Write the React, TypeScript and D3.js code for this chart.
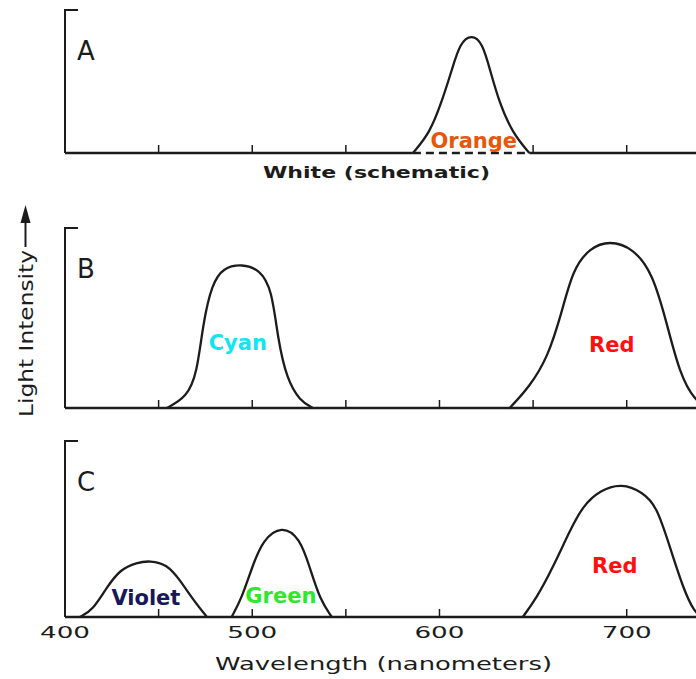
import * as d3 from "d3";

// wavelength (nm) / relative intensity pairs
const orangeA: [number, number][] = [
  [585.8, 0], [594.8, 0.14], [601, 0.35], [606.6, 0.58], [610.9, 0.77],
  [617.2, 0.83], [623, 0.77], [627, 0.58], [632, 0.35], [639, 0.14], [648, 0],
];
const cyanB: [number, number][] = [
  [454.4, 0], [465, 0.06], [470.5, 0.19], [473.7, 0.47], [478.5, 0.69],
  [484.5, 0.78], [494.5, 0.8], [504, 0.77], [510.5, 0.66], [513.7, 0.38],
  [518.5, 0.16], [525.4, 0.04], [532.4, 0],
];
const redB: [number, number][] = [
  [637.5, 0], [648.2, 0.12], [657.8, 0.28], [665.3, 0.53], [671.2, 0.77],
  [680.3, 0.89], [690.9, 0.93], [703.2, 0.89], [713.9, 0.75], [721.4, 0.47],
  [728.3, 0.19], [736.3, 0.04], [744, 0],
];
const violetC: [number, number][] = [
  [408, 0], [415, 0.04], [422.4, 0.17], [429.4, 0.27], [438.4, 0.31],
  [445.4, 0.32], [454.4, 0.3], [461.4, 0.21], [468.3, 0.1], [475.8, 0],
];
const greenC: [number, number][] = [
  [489, 0], [494.5, 0.11], [499.8, 0.28], [505.7, 0.44], [515.8, 0.52],
  [525.4, 0.45], [530.8, 0.28], [536.1, 0.1], [542.5, 0],
];
const redC: [number, number][] = [
  [644.5, 0], [652, 0.11], [660.5, 0.28], [669.6, 0.49], [676.5, 0.63],
  [685.6, 0.72], [697.3, 0.76], [708.5, 0.71], [716, 0.63], [723, 0.4],
  [729.9, 0.17], [736.3, 0.02], [741, 0],
];

const ticksA = [450, 500, 550, 650, 700];
const ticksB = [450, 500, 550, 600, 650, 700];
const ticksC = [450, 500, 550, 600, 700];
const tickLabels = [400, 500, 600, 700];

// label text, colour, anchor wavelength, anchor intensity
const labelsA = [["Orange", "#e8560c", 618.3, 0.035]] as const;
const labelsB = [
  ["Cyan", "#12e4f4", 492.3, 0.32],
  ["Red", "#ff1010", 692, 0.31],
] as const;
const labelsC = [
  ["Violet", "#17175a", 443.2, 0.07],
  ["Green", "#2ee82e", 515.3, 0.08],
  ["Red", "#ff1010", 693.6, 0.25],
] as const;

const W = 696;
const H = 679;
const ink = "#1c1c1c";
const font = "DejaVu Sans";

const x = d3.scaleLinear().domain([400, 737]).range([65, 696]);

const panels = [
  { name: "A", top: 10, base: 153, curves: [orangeA], ticks: ticksA, labels: labelsA, dashed: [585.8, 648] },
  { name: "B", top: 228, base: 408, curves: [cyanB, redB], ticks: ticksB, labels: labelsB, dashed: null },
  { name: "C", top: 441, base: 617, curves: [violetC, greenC, redC], ticks: ticksC, labels: labelsC, dashed: null },
];

function Panel({ p }: { p: (typeof panels)[number] }) {
  const y = d3.scaleLinear().domain([0, 1]).range([p.base, p.top]);
  const line = d3
    .line<[number, number]>()
    .x((d) => x(d[0]))
    .y((d) => y(d[1]))
    .curve(d3.curveBasis);
  const x0 = x.range()[0];
  const x1 = x.range()[1];

  return (
    <g>
      {/* bracket axis */}
      <path
        d={`M${x0 + 13},${p.top} H${x0} V${p.base}`}
        fill="none"
        stroke={ink}
        strokeWidth={2}
      />
      {/* baseline, dashed under the schematic band */}
      {p.dashed ? (
        <>
          <line x1={x0} x2={x(p.dashed[0])} y1={p.base} y2={p.base} stroke={ink} strokeWidth={2.4} />
          <line
            x1={x(p.dashed[0])}
            x2={x(p.dashed[1])}
            y1={p.base}
            y2={p.base}
            stroke={ink}
            strokeWidth={2.4}
            strokeDasharray="8,5"
          />
          <line x1={x(p.dashed[1])} x2={x1} y1={p.base} y2={p.base} stroke={ink} strokeWidth={2.4} />
        </>
      ) : (
        <line x1={x0} x2={x1} y1={p.base} y2={p.base} stroke={ink} strokeWidth={2.4} />
      )}
      {p.ticks.map((t) => (
        <line key={t} x1={x(t)} x2={x(t)} y1={p.base} y2={p.base - 8} stroke={ink} strokeWidth={1.5} />
      ))}
      {p.curves.map((c, i) => (
        <path key={i} d={line(c) ?? ""} fill="none" stroke={ink} strokeWidth={2.3} />
      ))}
      <text
        x={x0 + 12}
        y={p.top + 50}
        fontFamily={font}
        fontSize={26}
        fill={ink}
      >
        {p.name}
      </text>
      {p.labels.map(([txt, col, nm, v]) => (
        <text
          key={txt + nm}
          x={x(nm)}
          y={y(v)}
          textAnchor="middle"
          fontFamily={font}
          fontWeight="bold"
          fontSize={21}
          fill={col}
        >
          {txt}
        </text>
      ))}
    </g>
  );
}

export default function App() {
  const cBase = panels[2].base;
  return (
    <svg
      width={W}
      height={H}
      style={{ position: "absolute", left: 0, top: 0, background: "#fff" }}
    >
      {panels.map((p) => (
        <Panel key={p.name} p={p} />
      ))}

      <text
        x={263}
        y={178}
        fontFamily={font}
        fontWeight="bold"
        fontSize={16}
        fill={ink}
        textLength={227}
        lengthAdjust="spacingAndGlyphs"
      >
        White (schematic)
      </text>

      {tickLabels.map((t) => (
        <text
          key={t}
          x={x(t) - 25}
          y={cBase + 21}
          fontFamily={font}
          fontSize={16}
          fill={ink}
          textLength={50}
          lengthAdjust="spacingAndGlyphs"
        >
          {t}
        </text>
      ))}

      <text
        x={215}
        y={670}
        fontFamily={font}
        fontSize={17}
        fill={ink}
        textLength={337}
        lengthAdjust="spacingAndGlyphs"
      >
        Wavelength (nanometers)
      </text>

      {/* y-axis title with arrow */}
      <text
        transform="translate(33,417) rotate(-90)"
        fontFamily={font}
        fontSize={20}
        fill={ink}
        textLength={167}
        lengthAdjust="spacingAndGlyphs"
      >
        Light Intensity
      </text>
      <line x1={25.5} x2={25.5} y1={247} y2={220} stroke={ink} strokeWidth={2} />
      <path d="M25.5,205 L20.5,223 L30.5,223 Z" fill={ink} />
    </svg>
  );
}
